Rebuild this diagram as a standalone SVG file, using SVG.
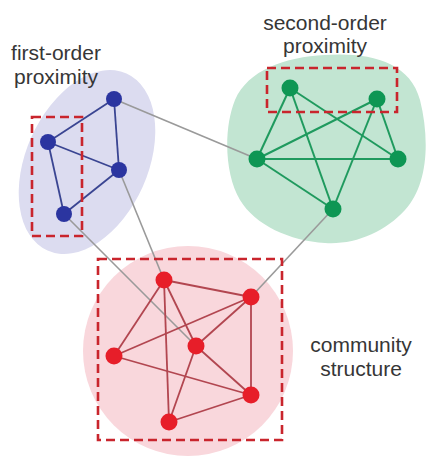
<svg xmlns="http://www.w3.org/2000/svg" width="428" height="459" viewBox="0 0 428 459">
  <style>
    .label { font-family: "Liberation Sans", Arial, sans-serif; font-size: 21px; fill: #363636; text-anchor: middle; }
    .link { stroke: #9a9a9a; stroke-width: 1.6; fill: none; }
    .e-blue { stroke: #3a4592; stroke-width: 1.8; }
    .e-green { stroke: #1f9a5e; stroke-width: 2; }
    .e-red { stroke: #b24650; stroke-width: 1.8; }
    .n-blue { fill: #2b35a0; }
    .n-green { fill: #0e9654; }
    .n-red { fill: #e71e29; }
    .box { fill: none; stroke: #c9252d; stroke-width: 2.6; stroke-dasharray: 9 5; }
  </style>

  <rect width="428" height="459" fill="#ffffff"/>

  <!-- cluster backgrounds -->
  <g id="regions">
    <ellipse cx="87" cy="162" rx="61" ry="97" transform="rotate(24 87 162)" fill="#dcdcf0"/>
    <path d="M325,55 C370,52 410,62 420,100 C430,140 428,185 405,210 C385,232 355,245 325,243 C290,241 255,225 240,200 C225,175 223,130 235,100 C248,70 285,57 325,55 Z" fill="#c2e5d2"/>
    <circle cx="188" cy="351" r="105" fill="#f9d7dc"/>
  </g>

  <!-- connectors -->
  <g id="connectors">
    <!-- links between clusters -->
    <line class="link" x1="114" y1="99" x2="257" y2="159"/>
    <line class="link" x1="119" y1="170" x2="164" y2="280"/>
    <line class="link" x1="64" y1="214" x2="196" y2="346"/>
    <line class="link" x1="333" y1="209" x2="251" y2="297"/>
    <!-- blue cluster -->
    <line class="e-blue" x1="114" y1="99" x2="48" y2="142"/>
    <line class="e-blue" x1="114" y1="99" x2="119" y2="170"/>
    <line class="e-blue" x1="48" y1="142" x2="119" y2="170"/>
    <line class="e-blue" x1="48" y1="142" x2="64" y2="214"/>
    <line class="e-blue" x1="119" y1="170" x2="64" y2="214"/>
    <!-- green cluster -->
    <line class="e-green" x1="290" y1="88" x2="257" y2="159"/>
    <line class="e-green" x1="290" y1="88" x2="333" y2="209"/>
    <line class="e-green" x1="290" y1="88" x2="398" y2="159"/>
    <line class="e-green" x1="377" y1="99" x2="257" y2="159"/>
    <line class="e-green" x1="377" y1="99" x2="398" y2="159"/>
    <line class="e-green" x1="377" y1="99" x2="333" y2="209"/>
    <line class="e-green" x1="257" y1="159" x2="398" y2="159"/>
    <line class="e-green" x1="257" y1="159" x2="333" y2="209"/>
    <!-- red cluster -->
    <line class="e-red" x1="164" y1="280" x2="251" y2="297"/>
    <line class="e-red" x1="164" y1="280" x2="114" y2="356"/>
    <line class="e-red" x1="164" y1="280" x2="196" y2="346"/>
    <line class="e-red" x1="164" y1="280" x2="169" y2="422"/>
    <line class="e-red" x1="251" y1="297" x2="114" y2="356"/>
    <line class="e-red" x1="251" y1="297" x2="196" y2="346"/>
    <line class="e-red" x1="251" y1="297" x2="251" y2="395"/>
    <line class="e-red" x1="114" y1="356" x2="251" y2="395"/>
    <line class="e-red" x1="196" y1="346" x2="251" y2="395"/>
    <line class="e-red" x1="196" y1="346" x2="169" y2="422"/>
    <line class="e-red" x1="169" y1="422" x2="251" y2="395"/>
  </g>

  <!-- nodes -->
  <g id="b1"><circle class="n-blue" cx="114" cy="99" r="8"/></g>
  <g id="b2"><circle class="n-blue" cx="48" cy="142" r="8"/></g>
  <g id="b3"><circle class="n-blue" cx="119" cy="170" r="8"/></g>
  <g id="b4"><circle class="n-blue" cx="64" cy="214" r="8"/></g>

  <g id="g1"><circle class="n-green" cx="290" cy="88" r="8.5"/></g>
  <g id="g2"><circle class="n-green" cx="377" cy="99" r="8.5"/></g>
  <g id="g3"><circle class="n-green" cx="257" cy="159" r="8.5"/></g>
  <g id="g4"><circle class="n-green" cx="398" cy="159" r="8.5"/></g>
  <g id="g5"><circle class="n-green" cx="333" cy="209" r="8.5"/></g>

  <g id="r1"><circle class="n-red" cx="164" cy="280" r="8.5"/></g>
  <g id="r2"><circle class="n-red" cx="251" cy="297" r="8.5"/></g>
  <g id="r3"><circle class="n-red" cx="114" cy="356" r="8.5"/></g>
  <g id="r4"><circle class="n-red" cx="196" cy="346" r="8.5"/></g>
  <g id="r5"><circle class="n-red" cx="251" cy="395" r="8.5"/></g>
  <g id="r6"><circle class="n-red" cx="169" cy="422" r="8.5"/></g>

  <!-- highlighted groupings -->
  <g id="first-order">
    <rect class="box" x="32" y="117" width="50" height="119"/>
    <text class="label" x="56" y="60">first-order</text>
    <text class="label" x="56" y="84">proximity</text>
  </g>
  <g id="second-order">
    <rect class="box" x="267" y="68" width="130" height="44"/>
    <text class="label" x="325" y="30">second-order</text>
    <text class="label" x="325" y="53">proximity</text>
  </g>
  <g id="community">
    <rect class="box" x="98" y="259" width="184" height="181"/>
    <text class="label" x="361" y="352">community</text>
    <text class="label" x="361" y="376">structure</text>
  </g>
</svg>
